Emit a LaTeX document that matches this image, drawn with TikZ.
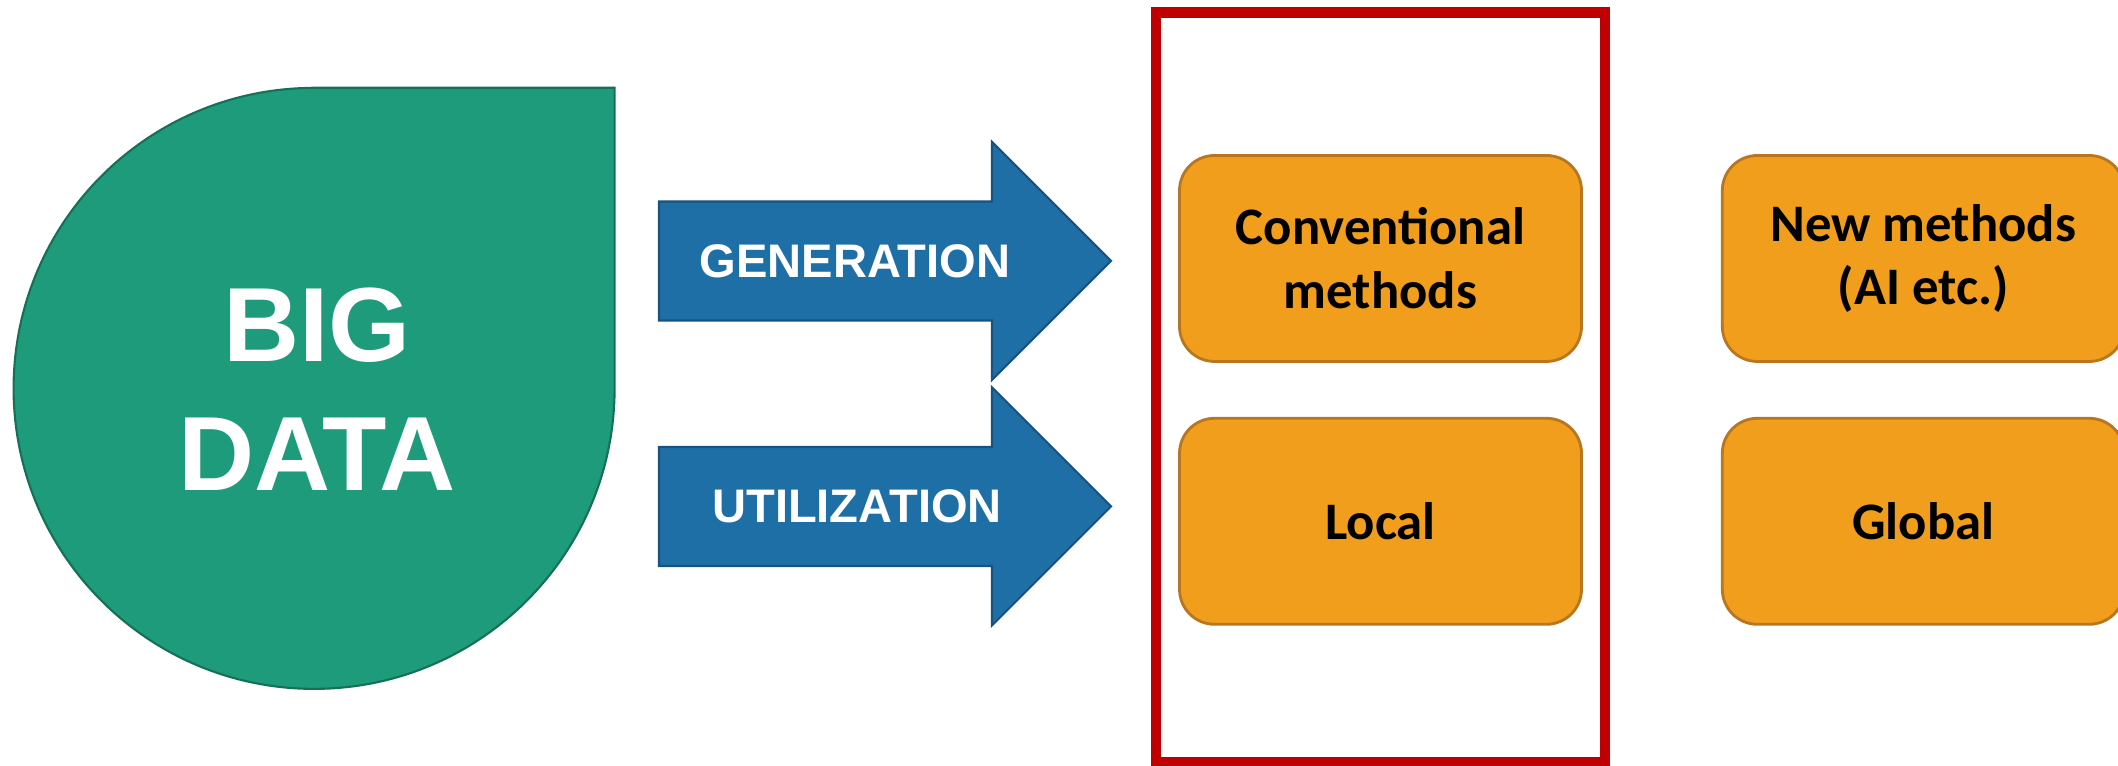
\documentclass[tikz,border=0pt]{standalone}
\usepackage{fontspec}
\usepackage{xcolor}
\usetikzlibrary{positioning}
\newfontfamily\headfont{Liberation Sans}
\newfontfamily\boxfont{Carlito}
\definecolor{bigdatagreen}{RGB}{30,155,122}
\definecolor{greenedge}{RGB}{22,112,88}
\definecolor{arrowblue}{RGB}{31,111,167}
\definecolor{arrowedge}{RGB}{24,82,128}
\definecolor{boxfill}{RGB}{240,158,28}
\definecolor{boxedge}{RGB}{184,118,32}
\definecolor{framered}{RGB}{192,0,0}

\begin{document}
\begin{tikzpicture}[
    node distance=0.54cm and 1.38cm,
    box/.style={rectangle, draw=boxedge, fill=boxfill, line width=0.8pt, rounded corners=0.35cm, minimum width=4.02cm, minimum height=2.06cm, align=center, font=\boxfont\bfseries\fontsize{15}{18.2}\selectfont},
    redframe/.style={rectangle, draw=framered, line width=3.1pt, minimum width=4.49cm, minimum height=7.5cm},
    bigtext/.style={text=white, align=center, font=\headfont\bfseries\fontsize{30}{36.7}\selectfont},
    arrowlabel/.style={text=white, font=\headfont\bfseries\fontsize{13.4}{16}\selectfont},
    blockarrow/.style={draw=arrowedge, fill=arrowblue, line width=0.6pt}
]
\useasboundingbox (0,0) rectangle (21.18,7.66);

\draw[fill=bigdatagreen, draw=greenedge, line width=0.6pt] (3.14,6.782) -- (6.146,6.782) -- (6.146,3.776) arc[start angle=0, end angle=-270, radius=3.005] -- cycle;
\node[bigtext] (bigdata) at (3.17,3.77) {BIG\\DATA};

\draw[blockarrow] (6.59,4.455) -- (9.92,4.455) -- (9.92,3.86) -- (11.11,5.05) -- (9.92,6.24) -- (9.92,5.645) -- (6.59,5.645) -- cycle;
\draw[blockarrow] (6.59,2.0) -- (9.92,2.0) -- (9.92,1.405) -- (11.11,2.595) -- (9.92,3.785) -- (9.92,3.19) -- (6.59,3.19) -- cycle;
\node[arrowlabel] (gen) at (8.55,5.05) {GENERATION};
\node[arrowlabel] (util) at (8.57,2.595) {UTILIZATION};

\node[redframe] (scope) at (13.805,3.784) {};
\node[box] (conv) at (13.805,5.075) {Conventional\\methods};
\node[box, below=of conv] (local) {Local};
\node[box, right=of conv] (newmeth) {New methods\\(AI etc.)};
\node[box, below=of newmeth] (global) {Global};

\end{tikzpicture}
\end{document}
